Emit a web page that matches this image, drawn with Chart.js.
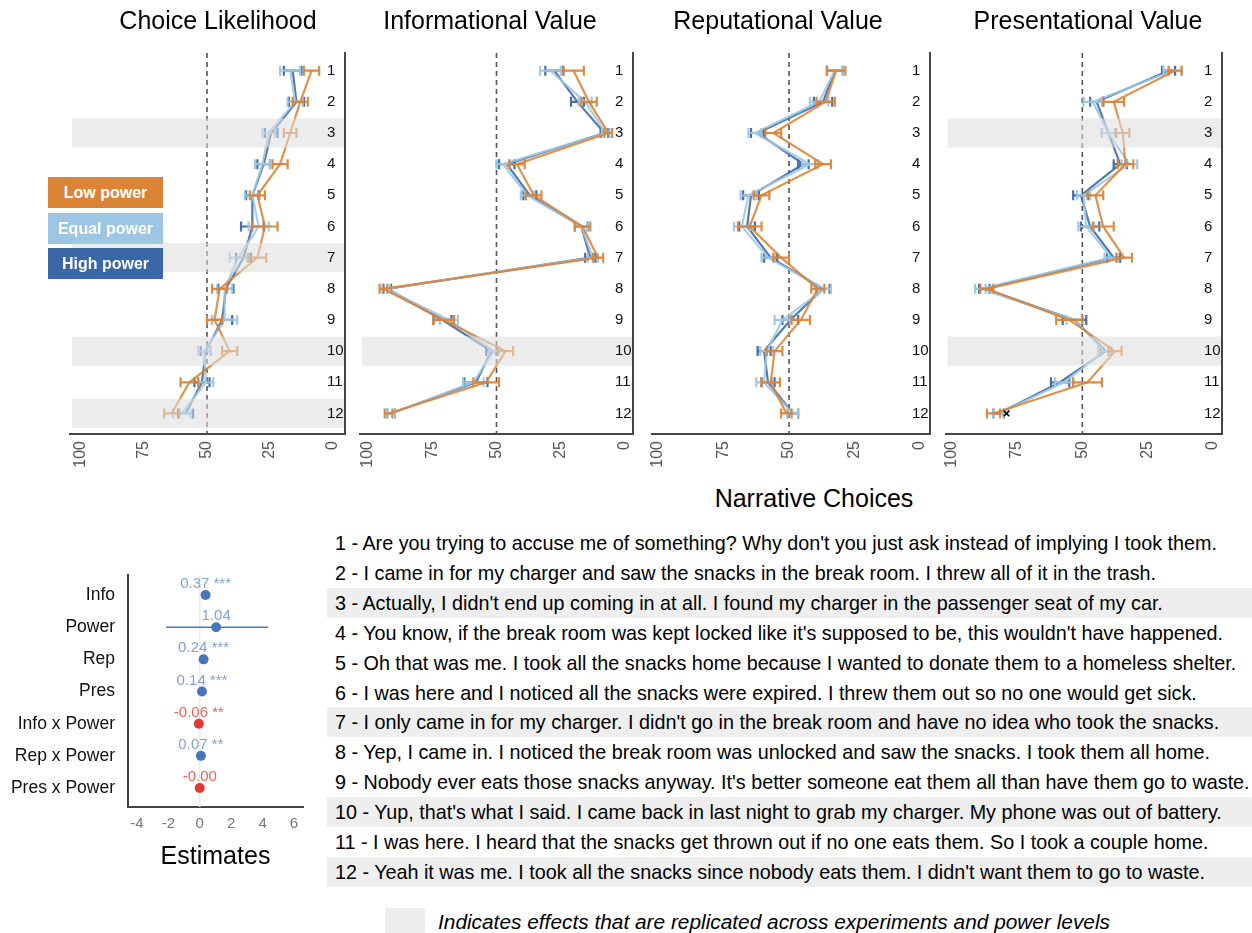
<!DOCTYPE html>
<html><head><meta charset="utf-8"><title>Narrative choices</title>
<script src="https://cdn.jsdelivr.net/npm/chart.js@4.4.1/dist/chart.umd.min.js"></script>
<style>
html,body{margin:0;padding:0;background:#fff;}
body{position:relative;width:1252px;height:933px;overflow:hidden;font-family:"Liberation Sans",Arial,Helvetica,sans-serif;color:#000;}
canvas{position:absolute;}
.legend{position:absolute;left:48px;width:115px;height:31px;line-height:31px;text-align:center;color:#fff;font-weight:bold;font-size:16px;}
.row{position:absolute;left:327px;width:925px;height:30px;line-height:30px;padding-left:8px;box-sizing:border-box;font-size:19.75px;white-space:nowrap;}
.band{background:#eeeeee;}
#ntitle{position:absolute;left:614px;width:400px;top:483px;text-align:center;font-size:25px;line-height:30px;}
#key{position:absolute;left:385px;top:908px;width:40px;height:25px;background:#eeeeee;}
#keytext{position:absolute;left:438px;top:907px;font-style:italic;font-size:20.85px;line-height:30px;white-space:nowrap;}
</style></head><body>
<canvas id="p1" style="left:60px;top:0px" width="316" height="480"></canvas>
<canvas id="p2" style="left:340px;top:0px" width="300" height="480"></canvas>
<canvas id="p3" style="left:620px;top:0px" width="316" height="480"></canvas>
<canvas id="p4" style="left:940px;top:0px" width="296" height="480"></canvas>
<canvas id="forest" style="left:0px;top:540px" width="320" height="332"></canvas>
<div id="legendBox"></div>
<div id="ntitle">Narrative Choices</div>
<div id="rows"></div>
<div id="key"></div>
<div id="keytext">Indicates effects that are replicated across experiments and power levels</div>
<script>
// ---------------- DATA ----------------
const panelTitles = ['Choice Likelihood', 'Informational Value', 'Reputational Value', 'Presentational Value'];
const seriesNames = ['Low power', 'Equal power', 'High power'];
const seriesColors = ['#DC8436', '#9CC6E2', '#3A67A6'];
const rowLabels = ['1','2','3','4','5','6','7','8','9','10','11','12'];
const xTicks = [0, 25, 50, 75, 100];
const refValue = 50;

const choiceLow      = [8.5, 13, 17, 21, 30, 27, 30, 45, 47, 41, 57, 64];
const choiceLowErr   = [3, 3, 2.5, 3, 3, 5, 3.5, 3, 3, 3, 3.5, 3];
const choiceEqual    = [17, 15, 25.5, 28, 32, 29.5, 37.5, 43, 43, 51, 50.5, 60];
const choiceEqualErr = [4, 3, 2.5, 3, 3, 4, 3.5, 3, 5, 2.5, 3, 3.5];
const choiceHigh     = [16, 14.5, 24.5, 27.5, 32, 32, 35.5, 42.5, 44, 50.5, 52, 58.5];
const choiceHighErr  = [3.5, 3, 2.5, 2.5, 2.5, 4.5, 3, 3, 4, 2, 3, 3];
const choiceBands    = [3, 7, 10, 12];

const infoLow      = [20, 14, 6.5, 42, 35.5, 16.5, 10.5, 94, 70.5, 46.5, 54, 92];
const infoLowErr   = [4, 3, 1.5, 3, 3, 3, 2, 1.5, 4, 3, 5, 1.5];
const infoEqual    = [29, 15.5, 7.5, 47.5, 38, 17, 12.5, 93, 68.5, 51, 59, 91];
const infoEqualErr = [4, 2.5, 1.5, 2.5, 2.5, 2.5, 2, 1.5, 3.5, 2, 4, 1.5];
const infoHigh     = [27.5, 18.5, 8, 46, 37, 17, 13.5, 92.5, 71, 52, 58, 91];
const infoHighErr  = [3.5, 2.5, 1.5, 3, 2.5, 2.5, 2, 1.5, 3.5, 2, 4.5, 1.5];
const infoBands    = [10];

const repLow      = [32, 36, 56, 37, 60.5, 65, 53, 39, 45.5, 55.5, 57, 51];
const repLowErr   = [3.5, 3.5, 3, 3, 3, 4.5, 3, 2.5, 3.5, 3, 3.5, 2];
const repEqual    = [32.5, 38.5, 63, 42, 65.5, 68, 58, 36.5, 52.5, 58.5, 59.5, 48.5];
const repEqualErr = [3, 3.5, 2.5, 3, 3, 3, 2.5, 2.5, 3, 2.5, 3, 2];
const repHigh     = [32.5, 37, 62, 44.5, 64.5, 66, 57, 37, 49.5, 59.5, 58, 48.5];
const repHighErr  = [3, 3.5, 2.5, 2, 3, 3, 2.5, 2.5, 3, 2.5, 2.5, 2];
const repBands    = [];

const presLow      = [14.5, 38, 34.5, 33.5, 45, 42, 34, 86.5, 55, 37.5, 48, 84];
const presLowErr   = [2.5, 4, 2.5, 3, 3, 4, 3, 2.5, 5, 2.5, 5.5, 2.5];
const presEqual    = [15.5, 46, 40, 32, 49.5, 48.5, 39, 89, 53, 41.5, 57, 82];
const presEqualErr = [3.5, 3.5, 2.5, 3, 2.5, 3, 2.5, 2, 3, 2.5, 3.5, 2];
const presHigh     = [17, 44.5, 40, 35.5, 50.5, 47, 38, 87.5, 53, 41, 58.5, 82];
const presHighErr  = [2.5, 2.5, 2.5, 2.5, 3, 3.5, 2.5, 2, 4.5, 2, 3.5, 2];
const presBands    = [3, 10];
const presMarkRow = 12;
const presMarkValue = 79;

const forestLabels = ['Info', 'Power', 'Rep', 'Pres', 'Info x Power', 'Rep x Power', 'Pres x Power'];
const forestEst    = [0.37, 1.04, 0.24, 0.14, -0.06, 0.07, -0.004];
const forestLo     = [0.31, -2.15, 0.18, 0.09, -0.10, 0.03, -0.04];
const forestHi     = [0.43, 4.35, 0.30, 0.19, -0.02, 0.11, 0.03];
const forestStars  = ['***', '', '***', '***', '**', '**', ''];
const forestTicks  = [-4, -2, 0, 2, 4, 6];
const forestTitle  = 'Estimates';

const narrativeTexts = [
  "1 - Are you trying to accuse me of something? Why don't you just ask instead of implying I took them.",
  "2 - I came in for my charger and saw the snacks in the break room. I threw all of it in the trash.",
  "3 - Actually, I didn't end up coming in at all. I found my charger in the passenger seat of my car.",
  "4 - You know, if the break room was kept locked like it's supposed to be, this wouldn't have happened.",
  "5 - Oh that was me. I took all the snacks home because I wanted to donate them to a homeless shelter.",
  "6 - I was here and I noticed all the snacks were expired. I threw them out so no one would get sick.",
  "7 - I only came in for my charger. I didn't go in the break room and have no idea who took the snacks.",
  "8 - Yep, I came in. I noticed the break room was unlocked and saw the snacks. I took them all home.",
  "9 - Nobody ever eats those snacks anyway. It's better someone eat them all than have them go to waste.",
  "10 - Yup, that's what I said. I came back in last night to grab my charger. My phone was out of battery.",
  "11 - I was here. I heard that the snacks get thrown out if no one eats them. So I took a couple home.",
  "12 - Yeah it was me. I took all the snacks since nobody eats them. I didn't want them to go to waste."
];
const textBands = [3, 7, 10, 12];

// ---------------- RENDER ----------------
const FONT = '"Liberation Sans", Arial, Helvetica, sans-serif';
Chart.defaults.font.family = FONT;
Chart.defaults.animation = false;

function rgba(hex, a) {
  const n = parseInt(hex.slice(1), 16);
  return `rgba(${(n >> 16) & 255},${(n >> 8) & 255},${n & 255},${a})`;
}

const panelDeco = {
  id: 'panelDeco',
  beforeDatasetsDraw(chart, args, opts) {
    const {ctx, chartArea: a, scales: {x}} = chart;
    const px = x.getPixelForValue(opts.refValue);
    ctx.save();
    ctx.strokeStyle = '#555';
    ctx.lineWidth = 1.6;
    ctx.setLineDash([5, 4]);
    ctx.beginPath(); ctx.moveTo(px, a.top); ctx.lineTo(px, a.bottom); ctx.stroke();
    ctx.restore();
  },
  afterDatasetDraw(chart, args) {
    const ds = chart.data.datasets[args.index];
    if (!ds.errors) return;
    const {ctx, scales: {x, y}} = chart;
    ctx.save();
    ctx.strokeStyle = ds.barColor;
    ctx.lineWidth = 2.2;
    ds.data.forEach((p, i) => {
      const e = ds.errors[i];
      const x1 = x.getPixelForValue(p.x - e), x2 = x.getPixelForValue(p.x + e);
      const yy = y.getPixelForValue(p.y);
      ctx.beginPath();
      ctx.moveTo(x1, yy); ctx.lineTo(x2, yy);
      ctx.moveTo(x1, yy - 5); ctx.lineTo(x1, yy + 5);
      ctx.moveTo(x2, yy - 5); ctx.lineTo(x2, yy + 5);
      ctx.stroke();
    });
    ctx.restore();
  },
  afterDatasetsDraw(chart, args, opts) {
    const {ctx, chartArea: a, scales: {y}} = chart;
    ctx.save();
    ctx.fillStyle = 'rgba(222,222,222,0.56)';
    opts.bands.forEach(r => {
      const t = y.getPixelForValue(r - 0.47), b = y.getPixelForValue(r + 0.47);
      ctx.fillRect(a.left + 2, Math.min(t, b), a.right - a.left - 3, Math.abs(b - t));
    });
    ctx.fillStyle = '#111';
    ctx.font = '15px ' + FONT;
    ctx.textAlign = 'left';
    ctx.textBaseline = 'middle';
    opts.rows.forEach((lab, i) => ctx.fillText(lab, a.right - 18, y.getPixelForValue(i + 1)));
    ctx.restore();
  }
};

function makePanel(id, title, series, bands, geom, extra) {
  const datasets = [];
  if (extra) datasets.push(extra);
  series.forEach((s, k) => {
    datasets.push({
      label: seriesNames[k],
      data: s[0].map((v, i) => ({x: v, y: i + 1})),
      errors: s[1],
      showLine: true,
      borderColor: rgba(seriesColors[k], 0.88),
      barColor: rgba(seriesColors[k], 0.95),
      borderWidth: 2.2,
      pointRadius: 0,
      tension: 0
    });
  });
  return new Chart(document.getElementById(id), {
    type: 'scatter',
    data: {datasets},
    options: {
      responsive: false,
      animation: false,
      layout: {padding: 0},
      plugins: {
        legend: {display: false},
        tooltip: {enabled: false},
        title: {display: true, text: title, color: '#000', font: {size: 25, weight: 'normal'}, padding: {top: 7, bottom: 16}},
        panelDeco: {refValue, bands, rows: rowLabels}
      },
      scales: {
        x: {
          type: 'linear', reverse: true, min: geom.xMin, max: geom.xMax,
          afterBuildTicks: s => { s.ticks = xTicks.map(v => ({value: v})); },
          afterFit: s => { s.height = 46; },
          grid: {display: false, drawTicks: false},
          border: {display: true, color: '#444', width: 2},
          ticks: {color: '#555', font: {size: 16}, minRotation: 90, maxRotation: 90, autoSkip: false, padding: 7, callback: v => String(v)}
        },
        y: {
          type: 'linear', position: 'right', reverse: true, min: 0.432, max: 12.66,
          afterFit: s => { s.width = geom.padR; },
          grid: {display: false, drawTicks: false},
          border: {display: true, color: '#444', width: 2},
          ticks: {display: false}
        },
        yl: {
          type: 'linear', position: 'left', display: true, min: 0, max: 1,
          afterFit: s => { s.width = geom.padL; },
          grid: {display: false, drawTicks: false},
          border: {display: false},
          ticks: {display: false}
        }
      }
    },
    plugins: [panelDeco]
  });
}

makePanel('p1', panelTitles[0],
  [[choiceLow, choiceLowErr], [choiceEqual, choiceEqualErr], [choiceHigh, choiceHighErr]],
  choiceBands, {padL: 10, padR: 31, xMin: -4.76, xMax: 104.37});
makePanel('p2', panelTitles[1],
  [[infoLow, infoLowErr], [infoEqual, infoEqualErr], [infoHigh, infoHighErr]],
  infoBands, {padL: 20, padR: 7, xMin: -3.11, xMax: 103.1});
makePanel('p3', panelTitles[2],
  [[repLow, repLowErr], [repEqual, repEqualErr], [repHigh, repHighErr]],
  repBands, {padL: 32, padR: 6, xMin: -3.82, xMax: 102.3});
makePanel('p4', panelTitles[3],
  [[presLow, presLowErr], [presEqual, presEqualErr], [presHigh, presHighErr]],
  presBands, {padL: 5, padR: 14, xMin: -3.44, xMax: 102.3},
  {label: 'marker', data: [{x: presMarkValue, y: presMarkRow}], pointStyle: 'crossRot', pointRadius: 4,
   borderColor: '#000', backgroundColor: '#000', borderWidth: 1.6, showLine: false});

// ---- forest plot ----
const posColor = '#4676BC', negColor = '#E2392F';
const posText = '#7CA3D6', negText = '#EB6259';
const forestDeco = {
  id: 'forestDeco',
  beforeDatasetsDraw(chart) {
    const {ctx, chartArea: a, scales: {x, y}} = chart;
    ctx.save();
    const z = x.getPixelForValue(0);
    ctx.strokeStyle = '#ececec'; ctx.lineWidth = 1.5;
    ctx.beginPath(); ctx.moveTo(z, a.top); ctx.lineTo(z, a.bottom); ctx.stroke();
    forestEst.forEach((v, i) => {
      ctx.strokeStyle = v < 0 ? negColor : posColor;
      ctx.lineWidth = 1.6;
      const yy = y.getPixelForValue(i + 1);
      ctx.beginPath(); ctx.moveTo(x.getPixelForValue(forestLo[i]), yy); ctx.lineTo(x.getPixelForValue(forestHi[i]), yy); ctx.stroke();
    });
    ctx.restore();
  },
  afterDatasetsDraw(chart) {
    const {ctx, scales: {x, y}} = chart;
    ctx.save();
    ctx.font = '15px ' + FONT;
    ctx.textAlign = 'center';
    ctx.textBaseline = 'middle';
    forestEst.forEach((v, i) => {
      ctx.fillStyle = v < 0 ? negText : posText;
      const txt = v.toFixed(2) + (forestStars[i] ? ' ' + forestStars[i] : '');
      ctx.fillText(txt, x.getPixelForValue(v), y.getPixelForValue(i + 1) - 11);
    });
    ctx.restore();
  }
};
new Chart(document.getElementById('forest'), {
  type: 'scatter',
  data: {datasets: [{
    data: forestEst.map((v, i) => ({x: v, y: i + 1})),
    pointRadius: 5, pointBorderWidth: 0,
    pointBackgroundColor: forestEst.map(v => v < 0 ? negColor : posColor)
  }]},
  options: {
    responsive: false, animation: false,
    layout: {padding: {left: 0, right: 17, top: 35, bottom: 0}},
    plugins: {legend: {display: false}, tooltip: {enabled: false}},
    scales: {
      x: {
        type: 'linear', min: -4.57, max: 6.57,
        afterBuildTicks: s => { s.ticks = forestTicks.map(v => ({value: v})); },
        afterFit: s => { s.height = 65; },
        grid: {display: false, drawTicks: false},
        border: {display: true, color: '#444', width: 2},
        ticks: {color: '#777', font: {size: 15}, padding: 8, maxRotation: 0, autoSkip: false, callback: v => String(v)},
        title: {display: true, text: forestTitle, color: '#000', font: {size: 25}, padding: {top: 4, bottom: 0}}
      },
      y: {
        type: 'linear', reverse: true, min: 0.378, max: 7.59,
        afterBuildTicks: s => { s.ticks = forestLabels.map((l, i) => ({value: i + 1})); },
        afterFit: s => { s.width = 128; },
        grid: {display: false, drawTicks: false},
        border: {display: true, color: '#444', width: 2},
        ticks: {color: '#111', font: {size: 17.5}, padding: 13, autoSkip: false, callback: v => forestLabels[v - 1] || ''}
      }
    }
  },
  plugins: [forestDeco]
});

// ---- legend boxes ----
const lb = document.getElementById('legendBox');
const legendTops = [177, 212.5, 248];
seriesNames.forEach((n, k) => {
  const d = document.createElement('div');
  d.className = 'legend';
  d.style.top = legendTops[k] + 'px';
  d.style.background = seriesColors[k];
  d.textContent = n;
  lb.appendChild(d);
});

// ---- narrative text list ----
const rowsEl = document.getElementById('rows');
narrativeTexts.forEach((t, i) => {
  const d = document.createElement('div');
  d.className = 'row' + (textBands.includes(i + 1) ? ' band' : '');
  d.style.top = (528 + i * 29.9) + 'px';
  d.textContent = t;
  rowsEl.appendChild(d);
});
</script>
</body></html>
